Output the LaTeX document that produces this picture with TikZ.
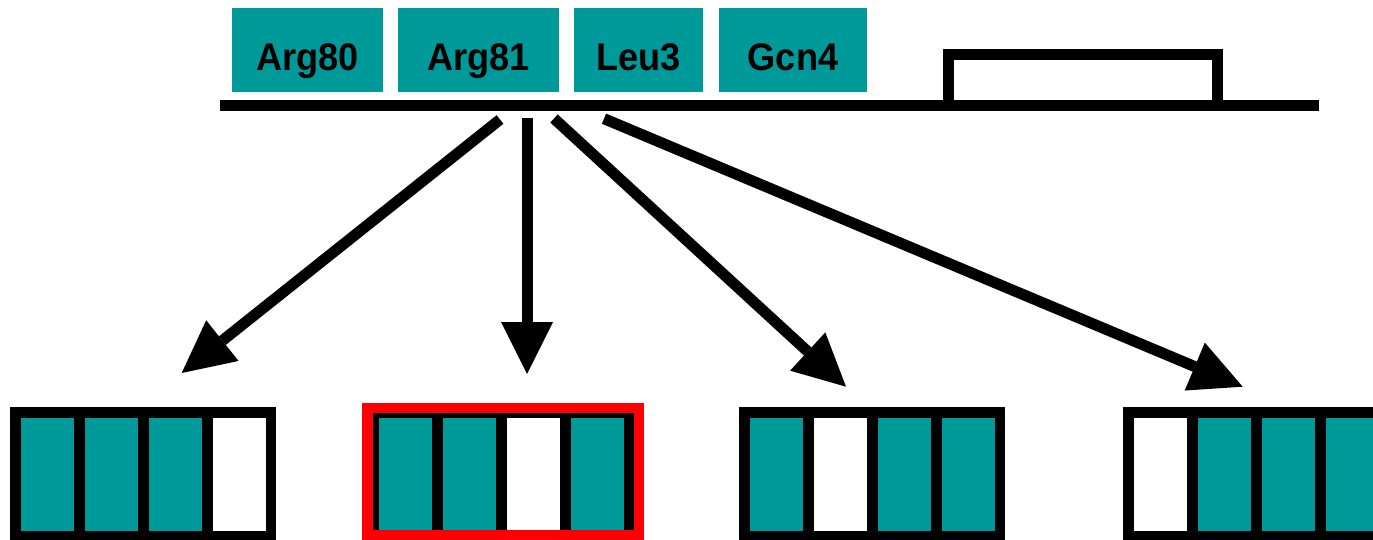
\documentclass[tikz,border=0pt]{standalone}
\usepackage{fontspec}
\setmainfont{Liberation Sans}
\newfontfamily\factorfont[FakeStretch=0.94]{Liberation Sans}
\usetikzlibrary{arrows.meta}
\definecolor{cellteal}{RGB}{0,153,153}
\definecolor{hilite}{RGB}{255,0,0}

\begin{document}
\begin{tikzpicture}[x=1pt,y=-1pt,
  factor/.style={fill=cellteal, draw=none, inner sep=0pt, minimum height=84pt,
    text height=42pt, text depth=0pt,
    font=\factorfont\bfseries\fontsize{38.5}{38.5}\selectfont},
  dnaline/.style={line width=11pt, line cap=butt},
  genebox/.style={draw=black, line width=11pt, inner sep=0pt, fill=white},
  frame/.style={fill=black, draw=none, inner sep=0pt, anchor=north west},
  cell/.style={draw=none, inner sep=0pt, anchor=north west,
    minimum width=53.5pt, minimum height=113pt},
  bind/.style={line width=11pt, line cap=butt,
    -{Triangle[length=52pt, width=52pt, line width=0pt]}}
]
\useasboundingbox (0,0) rectangle (1373,540);

% promoter DNA with the coding region
\coordinate (dnaL) at (220,106);
\coordinate (dnaR) at (1319,106);
\node[genebox, minimum width=269pt, minimum height=51pt] (gene) at (1083,80.5) {};
\draw[dnaline] (dnaL) -- (dnaR);

% transcription factors bound to the promoter
\node[factor, minimum width=151pt] (arg80) at (307.5,50) {Arg80};
\node[factor, minimum width=161pt] (arg81) at (478.5,50) {Arg81};
\node[factor, minimum width=129pt] (leu3)  at (638.5,50) {Leu3};
\node[factor, minimum width=148pt] (gcn4)  at (793,50)   {Gcn4};

% knockout combinations
\node[frame, minimum width=266pt, minimum height=140pt] (combA) at (10,407) {};
\foreach \c [count=\i from 0] in {cellteal,cellteal,cellteal,white}
  \node[cell, fill=\c] (combA\i) at (20.5+64*\i,418) {};

\node[frame, fill=hilite, minimum width=282pt, minimum height=145pt] (combB) at (362,403) {};
\node[frame, minimum width=261pt, minimum height=118pt] (combBin) at (373,413) {};
\foreach \c [count=\i from 0] in {cellteal,cellteal,white,cellteal}
  \node[cell, fill=\c, minimum width=53pt] (combB\i) at (378.5+64*\i,418) {};
\fill[hilite] (362,530) rectangle (644,545);

\node[frame, minimum width=266pt, minimum height=140pt] (combC) at (739,407) {};
\foreach \c [count=\i from 0] in {cellteal,white,cellteal,cellteal}
  \node[cell, fill=\c] (combC\i) at (749.5+64*\i,418) {};

\node[frame, minimum width=266pt, minimum height=140pt] (combD) at (1123,407) {};
\foreach \c [count=\i from 0] in {white,cellteal,cellteal,cellteal}
  \node[cell, fill=\c] (combD\i) at (1133.5+64*\i,418) {};

% arrows from the promoter to each combination
\coordinate (s1) at (500,119.5);
\coordinate (s2) at (527,118);
\coordinate (s3) at (554,118.5);
\coordinate (s4) at (604,118.7);
\coordinate (t1) at (181.7,373);
\coordinate (t2) at (527,374);
\coordinate (t3) at (846,386.7);
\coordinate (t4) at (1242.7,386.7);
\draw[bind] (s1) -- (t1);
\draw[bind] (s2) -- (t2);
\draw[bind] (s3) -- (t3);
\draw[bind] (s4) -- (t4);
\end{tikzpicture}
\end{document}
